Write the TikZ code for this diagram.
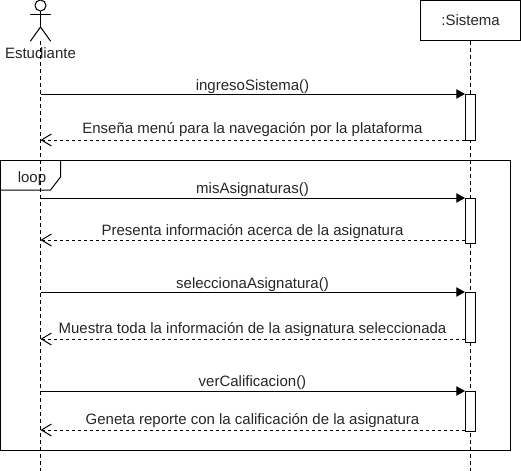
\documentclass[tikz,border=0pt]{standalone}
\usepackage{fontspec}
\setmainfont{Liberation Sans}
\usetikzlibrary{arrows.meta}

\tikzset{
  lifeline/.style={dashed, dash pattern=on 3pt off 2.25pt},
  actorline/.style={line cap=round},
  activation/.style={draw, fill=white, minimum width=7.5pt, inner sep=0pt},
  callmsg/.style={-{Triangle[length=6.5pt, width=7pt]}},
  replymsg/.style={dashed, dash pattern=on 2.25pt off 2.25pt, -{Straight Barb[length=7.5pt, width=9pt]}},
  msglabel/.style={font=\fontsize{11.25pt}{13pt}\selectfont, text=black!85, inner sep=0pt, text height=7.5pt, text depth=0pt}
}

\begin{document}
\begin{tikzpicture}[x=0.75pt, y=-0.75pt, line width=0.75pt]

  \useasboundingbox (0,0) rectangle (521,471);

  % -- Actor --
  \node[draw, circle, minimum size=8.25pt, inner sep=0pt] (head) at (40.5,5.5) {};
  \coordinate (hip) at (40.5,27);
  \coordinate (armL) at (30.5,14);
  \coordinate (armR) at (50.5,14);
  \coordinate (footL) at (30.5,41);
  \coordinate (footR) at (50.5,41);
  \draw[actorline] (head) -- (hip);
  \draw[actorline] (armL) -- (armR);
  \draw[actorline] (footL) -- (hip) -- (footR);
  \node[msglabel] (estudiante) at (40.5,53) {Estudiante};

  % -- Sistema Box --
  \node[msglabel, draw=black, minimum width=75pt, minimum height=30pt] (sistema) at (470.5,20) {:Sistema};

  % -- Lifelines --
  \coordinate (endEstudiante) at (40.5,471);
  \coordinate (endSistema) at (470.5,471);
  \coordinate (startEstudiante) at (40.5,41);
  \draw[lifeline] (startEstudiante) -- (endEstudiante);
  \draw[lifeline] (sistema.south) -- (endSistema);

  % -- Loop Frame --
  \node[draw, minimum width=382.5pt, minimum height=217.5pt, inner sep=0pt] (frame) at (255.25,305) {};
  \coordinate (tabA) at (60.5,160);
  \coordinate (tabB) at (60.5,177);
  \coordinate (tabC) at (50.5,190);
  \coordinate (tabD) at (0,190);
  \draw (tabA) -- (tabB) -- (tabC) -- (tabD);
  \node[msglabel] (loop) at (32,177) {loop};

  % -- Activations --
  \node[activation, minimum height=34.5pt] (act1) at (470.5,117) {};
  \node[activation, minimum height=33.75pt] (act2) at (470.5,220.5) {};
  \node[activation, minimum height=37.5pt] (act3) at (470.5,317) {};
  \node[activation, minimum height=30pt] (act4) at (470.5,411) {};

  % -- Points on the Student Lifeline --
  \coordinate (call1) at (40.5,94);
  \coordinate (back1) at (40.5,140);
  \coordinate (call2) at (40.5,198);
  \coordinate (back2) at (40.5,240);
  \coordinate (call3) at (40.5,292);
  \coordinate (back3) at (40.5,339);
  \coordinate (call4) at (40.5,391);
  \coordinate (back4) at (40.5,430);

  % -- Messages --
  \draw[callmsg] (call1) -- (call1 -| act1.west);
  \draw[replymsg] (back1 -| act1.west) -- (back1);
  \draw[callmsg] (call2) -- (call2 -| act2.west);
  \draw[replymsg] (back2 -| act2.west) -- (back2);
  \draw[callmsg] (call3) -- (call3 -| act3.west);
  \draw[replymsg] (back3 -| act3.west) -- (back3);
  \draw[callmsg] (call4) -- (call4 -| act4.west);
  \draw[replymsg] (back4 -| act4.west) -- (back4);

  % -- Message Labels --
  \node[msglabel] (ingreso) at (252.5,85) {ingresoSistema()};
  \node[msglabel] (menu) at (252.5,128) {Enseña menú para la navegación por la plataforma};
  \node[msglabel] (asignaturas) at (252.5,188) {misAsignaturas()};
  \node[msglabel] (presenta) at (252.5,230) {Presenta información acerca de la asignatura};
  \node[msglabel] (selecciona) at (252.5,283) {seleccionaAsignatura()};
  \node[msglabel] (muestra) at (252.5,328) {Muestra toda la información de la asignatura seleccionada};
  \node[msglabel] (calificacion) at (252.5,381) {verCalificacion()};
  \node[msglabel] (reporte) at (252.5,419) {Geneta reporte con la calificación de la asignatura};

\end{tikzpicture}
\end{document}
